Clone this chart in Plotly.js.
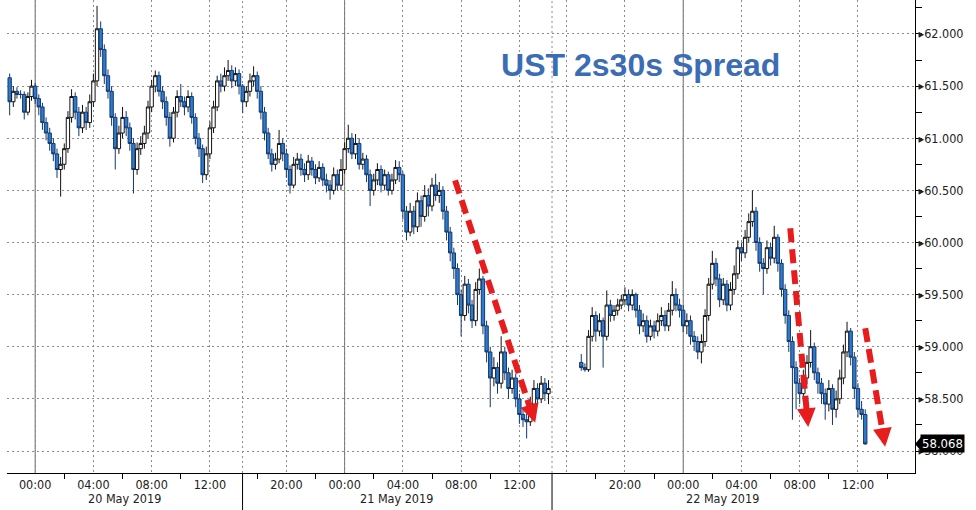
<!DOCTYPE html>
<html>
<head>
<meta charset="utf-8">
<script src="https://cdn.plot.ly/plotly-3.0.1.min.js"></script>
<style>
  html, body { margin: 0; padding: 0; background: #ffffff; }
  #chart { width: 976px; height: 510px; }
</style>
</head>
<body>
<div id="chart"></div>
<script>
// ---- DATA (15-minute bars, three sessions) ----
const sessionStarts = ['2019-05-19T22:15:00', '2019-05-20T17:00:00', '2019-05-21T17:00:00'];
const barMinutes = 15;

const s1Open  = [61.58,61.35,61.45,61.42,61.42,61.25,61.40,61.50,61.38,61.30,61.15,61.05,60.95,60.85,60.70,60.75,60.90,61.20,61.40,61.25,61.10,61.25,61.15,61.35,61.55,62.05,61.85,61.60,61.45,61.20,60.90,61.05,61.20,61.10,60.95,60.70,60.90,60.95,61.05,61.30,61.50,61.60,61.45,61.35,61.20,61.00,61.25,61.40,61.35,61.30,61.40,61.20,61.00,60.90,60.65,60.85,61.10,61.30,61.55,61.50,61.60,61.65,61.55,61.62];
const s1High  = [61.62,61.50,61.49,61.46,61.45,61.44,61.56,61.53,61.42,61.34,61.20,61.10,61.00,60.90,60.82,60.95,61.26,61.47,61.44,61.30,61.32,61.30,61.42,61.62,62.27,62.12,61.90,61.66,61.50,61.24,61.12,61.30,61.26,61.15,61.00,60.96,61.02,61.12,61.36,61.56,61.65,61.64,61.50,61.40,61.25,61.30,61.46,61.52,61.40,61.46,61.44,61.24,61.05,60.94,60.92,61.16,61.36,61.60,61.62,61.68,61.75,61.70,61.68,61.66];
const s1Low   = [61.22,61.30,61.38,61.38,61.18,61.22,61.36,61.33,61.22,61.08,60.98,60.88,60.78,60.62,60.44,60.70,60.86,61.15,61.18,61.02,61.05,61.08,61.10,61.30,61.50,61.78,61.52,61.38,61.12,60.70,60.85,61.00,61.02,60.88,60.47,60.65,60.84,60.90,61.00,61.25,61.44,61.40,61.28,61.12,60.92,60.96,61.20,61.30,61.22,61.25,61.14,60.94,60.82,60.57,60.60,60.80,61.05,61.26,61.44,61.45,61.55,61.48,61.50,61.42];
const s1Close = [61.35,61.45,61.42,61.42,61.25,61.40,61.50,61.38,61.30,61.15,61.05,60.95,60.85,60.70,60.75,60.90,61.20,61.40,61.25,61.10,61.25,61.15,61.35,61.55,62.05,61.85,61.60,61.45,61.20,60.90,61.05,61.20,61.10,60.95,60.70,60.90,60.95,61.05,61.30,61.50,61.60,61.45,61.35,61.20,61.00,61.25,61.40,61.35,61.30,61.40,61.20,61.00,60.90,60.65,60.85,61.10,61.30,61.55,61.50,61.60,61.65,61.55,61.62,61.50];

const s2Open  = [61.50,61.35,61.45,61.55,61.60,61.45,61.25,61.05,60.85,60.75,60.80,60.95,60.85,60.70,60.55,60.75,60.80,60.70,60.65,60.78,60.70,60.62,60.72,60.60,60.55,60.50,60.65,60.55,60.70,60.90,61.00,60.85,60.95,60.75,60.80,60.65,60.50,60.60,60.70,60.55,60.65,60.50,60.60,60.72,60.65,60.30,60.10,60.30,60.15,60.40,60.25,60.45,60.35,60.55,60.45,60.50,60.30,60.10,59.90,59.75,59.50,59.30,59.60,59.40,59.25,59.55,59.65,59.20,58.95,58.70,58.80,58.65,58.95,58.75,58.60,58.70,58.50,58.35,58.30,58.28,58.45,58.60,58.50,58.65,58.55];
const s2High  = [61.52,61.50,61.62,61.69,61.64,61.50,61.30,61.10,60.90,60.86,61.08,61.00,60.90,60.74,60.82,60.86,60.85,60.76,60.84,60.82,60.75,60.78,60.76,60.66,60.60,60.72,60.70,60.80,60.96,61.13,61.05,61.04,61.00,60.86,60.84,60.70,60.66,60.76,60.74,60.70,60.68,60.66,60.79,60.78,60.68,60.35,60.38,60.35,60.48,60.45,60.55,60.52,60.62,60.66,60.58,60.54,60.35,60.15,59.95,59.80,59.55,59.68,59.65,59.45,59.62,59.75,59.68,59.25,59.00,58.90,58.85,59.10,59.00,58.80,58.78,58.74,58.55,58.40,58.36,58.52,58.68,58.65,58.72,58.70,58.68];
const s2Low   = [61.24,61.30,61.40,61.50,61.38,61.18,60.98,60.80,60.68,60.70,60.76,60.78,60.62,60.47,60.52,60.70,60.64,60.58,60.60,60.64,60.56,60.58,60.54,60.48,60.41,60.46,60.50,60.50,60.66,60.86,60.80,60.80,60.70,60.70,60.58,60.35,60.45,60.55,60.48,60.50,60.45,60.46,60.56,60.58,60.22,60.02,60.06,60.08,60.10,60.15,60.20,60.25,60.30,60.40,60.38,60.22,60.02,59.82,59.65,59.40,59.10,59.25,59.32,59.18,59.20,59.50,59.12,58.85,58.42,58.62,58.55,58.60,58.68,58.50,58.55,58.42,58.26,58.23,58.12,58.24,58.40,58.44,58.46,58.48,58.45];
const s2Close = [61.35,61.45,61.55,61.60,61.45,61.25,61.05,60.85,60.75,60.80,60.95,60.85,60.70,60.55,60.75,60.80,60.70,60.65,60.78,60.70,60.62,60.72,60.60,60.55,60.50,60.65,60.55,60.70,60.90,61.00,60.85,60.95,60.75,60.80,60.65,60.50,60.60,60.70,60.55,60.65,60.50,60.60,60.72,60.65,60.30,60.10,60.30,60.15,60.40,60.25,60.45,60.35,60.55,60.45,60.50,60.30,60.10,59.90,59.75,59.50,59.30,59.60,59.40,59.25,59.55,59.65,59.20,58.95,58.70,58.80,58.65,58.95,58.75,58.60,58.70,58.50,58.35,58.30,58.28,58.45,58.60,58.50,58.65,58.55,58.60];

const s3Open  = [58.85,58.80,58.78,59.10,59.30,59.15,59.25,59.10,59.40,59.30,59.35,59.40,59.45,59.50,59.40,59.50,59.35,59.20,59.25,59.10,59.20,59.15,59.25,59.30,59.20,59.35,59.50,59.40,59.35,59.20,59.25,59.10,59.05,58.95,59.05,59.30,59.60,59.80,59.65,59.45,59.60,59.40,59.55,59.70,59.95,59.90,60.05,60.20,60.30,60.00,59.80,59.75,59.95,59.85,60.05,59.80,59.55,59.30,59.05,58.80,58.65,58.55,58.70,58.85,59.00,58.75,58.65,58.55,58.45,58.60,58.40,58.50,58.70,58.95,59.15,58.90,58.60,58.40,58.35];
const s3High  = [58.93,58.84,59.16,59.38,59.34,59.32,59.28,59.54,59.45,59.40,59.46,59.50,59.57,59.55,59.55,59.52,59.40,59.32,59.30,59.26,59.25,59.32,59.38,59.35,59.42,59.63,59.56,59.46,59.40,59.32,59.30,59.15,59.10,59.12,59.36,59.66,59.92,59.85,59.70,59.66,59.64,59.62,59.78,60.02,60.00,60.12,60.28,60.50,60.34,60.05,59.85,60.02,60.00,60.16,60.08,59.84,59.60,59.35,59.10,58.86,58.70,58.78,58.92,59.16,59.04,58.80,58.70,58.60,58.68,58.64,58.58,58.78,59.02,59.24,59.18,58.95,58.65,58.48,58.40];
const s3Low   = [58.77,58.76,58.76,59.05,59.05,59.10,58.80,59.06,59.24,59.25,59.30,59.36,59.40,59.34,59.35,59.28,59.12,59.14,59.04,59.06,59.08,59.10,59.20,59.15,59.15,59.30,59.34,59.28,59.14,59.12,59.02,58.96,58.88,58.84,59.00,59.25,59.55,59.58,59.38,59.40,59.34,59.35,59.50,59.65,59.82,59.85,60.00,60.15,59.92,59.72,59.50,59.70,59.78,59.80,59.72,59.48,59.22,58.95,58.30,58.40,58.45,58.48,58.64,58.80,58.68,58.55,58.45,58.30,58.38,58.25,58.32,58.45,58.64,58.90,58.82,58.50,58.32,58.30,58.06];
const s3Close = [58.80,58.78,59.10,59.30,59.15,59.25,59.10,59.40,59.30,59.35,59.40,59.45,59.50,59.40,59.50,59.35,59.20,59.25,59.10,59.20,59.15,59.25,59.30,59.20,59.35,59.50,59.40,59.35,59.20,59.25,59.10,59.05,58.95,59.05,59.30,59.60,59.80,59.65,59.45,59.60,59.40,59.55,59.70,59.95,59.90,60.05,60.20,60.30,60.00,59.80,59.75,59.95,59.85,60.05,59.80,59.55,59.30,59.05,58.80,58.65,58.55,58.70,58.85,59.00,58.75,58.65,58.55,58.45,58.60,58.40,58.50,58.70,58.95,59.15,58.90,58.60,58.40,58.35,58.068];

const lastValue = 58.068;

const xTickVals = ['2019-05-20 00:00','2019-05-20 04:00','2019-05-20 08:00','2019-05-20 12:00',
                   '2019-05-20 20:00','2019-05-21 00:00','2019-05-21 04:00','2019-05-21 08:00','2019-05-21 12:00',
                   '2019-05-21 16:00','2019-05-21 20:00','2019-05-22 00:00','2019-05-22 04:00','2019-05-22 08:00','2019-05-22 12:00'];
const xTickText = ['00:00','04:00','08:00','12:00','20:00','00:00','04:00','08:00','12:00','','20:00','00:00','04:00','08:00','12:00'];
const xMinorVals = ['2019-05-20 02:00','2019-05-20 06:00','2019-05-20 10:00',
                    '2019-05-20 18:00','2019-05-20 22:00','2019-05-21 02:00','2019-05-21 06:00','2019-05-21 10:00',
                    '2019-05-21 18:00','2019-05-21 22:00','2019-05-22 02:00','2019-05-22 06:00','2019-05-22 10:00','2019-05-22 14:00'];
const dayLabels = ['20 May 2019','21 May 2019','22 May 2019'];
const dayLabelTimes = ['2019-05-20 06:10','2019-05-21 03:35','2019-05-22 02:40'];
const midnights = ['2019-05-20 00:00','2019-05-21 00:00','2019-05-22 00:00'];
const sessionBreaks = ['2019-05-20 14:14:30','2019-05-21 14:14:30'];
const yTickVals = [58.0,58.5,59.0,59.5,60.0,60.5,61.0,61.5,62.0];

// ---- BUILD ----
function buildTimes(startISO, n) {
  const t0 = Date.parse(startISO + 'Z');
  const out = [];
  for (let i = 0; i < n; i++) {
    out.push(new Date(t0 + i * barMinutes * 60000).toISOString().slice(0, 16).replace('T', ' '));
  }
  return out;
}
const x = [].concat(buildTimes(sessionStarts[0], s1Close.length),
                    buildTimes(sessionStarts[1], s2Close.length),
                    buildTimes(sessionStarts[2], s3Close.length));
const open = s1Open.concat(s2Open, s3Open);
const high = s1High.concat(s2High, s3High);
const low = s1Low.concat(s2Low, s3Low);
const close = s1Close.concat(s2Close, s3Close);

const FONT = '"DejaVu Sans Condensed", "DejaVu Sans", sans-serif';
const RED = 'rgb(232,28,28)';

const trace = {
  type: 'candlestick',
  x: x, open: open, high: high, low: low, close: close,
  increasing: { line: { color: '#111111', width: 1 }, fillcolor: '#ffffff' },
  decreasing: { line: { color: '#14386a', width: 1 }, fillcolor: '#2d7bd0' },
  whiskerwidth: 0,
  showlegend: false,
  hoverinfo: 'skip'
};

const shapes = [];
midnights.forEach(function (d) {
  shapes.push({ type: 'line', layer: 'below', xref: 'x', yref: 'paper', x0: d, x1: d, y0: 0, y1: 1,
                line: { color: '#6a6a6a', width: 1 } });
});
sessionBreaks.forEach(function (d) {
  shapes.push({ type: 'line', layer: 'below', xref: 'x', yref: 'paper', x0: d, x1: d, y0: 0, y1: 1,
                line: { color: '#8a8a8a', width: 1, dash: '2px,3px' } });
  shapes.push({ type: 'line', xref: 'x', yref: 'paper', x0: d, x1: d, y0: -0.08, y1: 0,
                line: { color: '#000000', width: 1 } });
});
// red dashed trend arrows (shafts)
const arrowShafts = [
  [['2019-05-21 07:35', 60.596], ['2019-05-21 12:46', 58.40]],
  [['2019-05-22 07:21', 60.136], ['2019-05-22 08:29', 58.374]],
  [['2019-05-22 12:30', 59.178], ['2019-05-22 13:42', 58.18]]
];
arrowShafts.forEach(function (s) {
  shapes.push({ type: 'line', xref: 'x', yref: 'y', x0: s[0][0], y0: s[0][1], x1: s[1][0], y1: s[1][1],
                line: { color: RED, width: 6, dash: '14px,7px' } });
});
// pointer of last value label
shapes.push({ type: 'path', xref: 'paper', yref: 'y',
              path: 'M 1.0,' + lastValue + ' L 1.0075,' + (lastValue + 0.075) + ' L 1.0075,' + (lastValue - 0.075) + ' Z',
              fillcolor: '#000000', line: { width: 0 } });

const annotations = [];
const arrowTips = [
  ['2019-05-21 13:05', 58.27, -6, -19],
  ['2019-05-22 08:35', 58.23, -2, -20],
  ['2019-05-22 13:52', 58.04, -3, -20]
];
arrowTips.forEach(function (a) {
  annotations.push({ x: a[0], y: a[1], xref: 'x', yref: 'y', text: '', showarrow: true,
                     ax: a[2], ay: a[3], arrowhead: 2, arrowsize: 0.75, arrowwidth: 5, arrowcolor: RED, standoff: 0 });
});
dayLabels.forEach(function (t, i) {
  annotations.push({ x: dayLabelTimes[i], y: -0.053, xref: 'x', yref: 'paper', text: t, showarrow: false,
                     xanchor: 'center', yanchor: 'middle', font: { family: FONT, size: 12.5, color: '#222222' } });
});
annotations.push({ x: 1, xref: 'paper', y: lastValue, yref: 'y', xanchor: 'left', yanchor: 'middle', xshift: 5,
                   text: lastValue.toFixed(3), showarrow: false, bgcolor: '#000000', borderpad: 1,
                   font: { family: FONT, size: 13, color: '#ffffff' } });

const layout = {
  width: 976, height: 510,
  margin: { l: 7, r: 61, t: 0, b: 37, pad: 0 },
  paper_bgcolor: '#ffffff', plot_bgcolor: '#ffffff',
  showlegend: false,
  hovermode: false,
  boxgap: 0.08, boxgroupgap: 0,
  title: { text: 'UST 2s30s Spread', x: 0.6565, xanchor: 'center', y: 0.872, yanchor: 'middle',
           font: { family: '"Liberation Sans", Arial, sans-serif', size: 32, color: '#3a6db3', weight: 'bold' } },
  xaxis: {
    type: 'date',
    range: ['2019-05-19 22:04', '2019-05-22 15:55'],
    rangebreaks: [
      { values: ['2019-05-20 14:15'], dvalue: 2.75 * 3600000 },
      { values: ['2019-05-21 14:15'], dvalue: 0.75 * 3600000 }
    ],
    rangeslider: { visible: false },
    tickmode: 'array', tickvals: xTickVals, ticktext: xTickText,
    ticks: '', showgrid: true, gridcolor: '#8a8a8a', griddash: '2px,3px', gridwidth: 1,
    showline: true, linecolor: '#000000', linewidth: 1, zeroline: false,
    tickfont: { family: FONT, size: 12.5, color: '#222222' },
    minor: { tickmode: 'array', tickvals: xMinorVals, ticks: 'outside', ticklen: 5, tickcolor: '#000000', showgrid: false },
    fixedrange: true
  },
  yaxis: {
    side: 'right',
    range: [57.789, 62.326],
    tickmode: 'array', tickvals: yTickVals, ticktext: yTickVals.map(function (v) { return '\u25B8' + v.toFixed(3); }),
    ticks: '', showgrid: true, gridcolor: '#8a8a8a', griddash: '2px,3px', gridwidth: 1,
    showline: true, linecolor: '#000000', linewidth: 1, zeroline: false,
    tickfont: { family: FONT, size: 12.5, color: '#222222' },
    minor: { dtick: 0.25, tick0: 58, ticks: 'outside', ticklen: 6, tickcolor: '#000000', showgrid: false },
    fixedrange: true
  },
  shapes: shapes,
  annotations: annotations
};

Plotly.newPlot('chart', [trace], layout, { displayModeBar: false, staticPlot: true });
</script>
</body>
</html>
